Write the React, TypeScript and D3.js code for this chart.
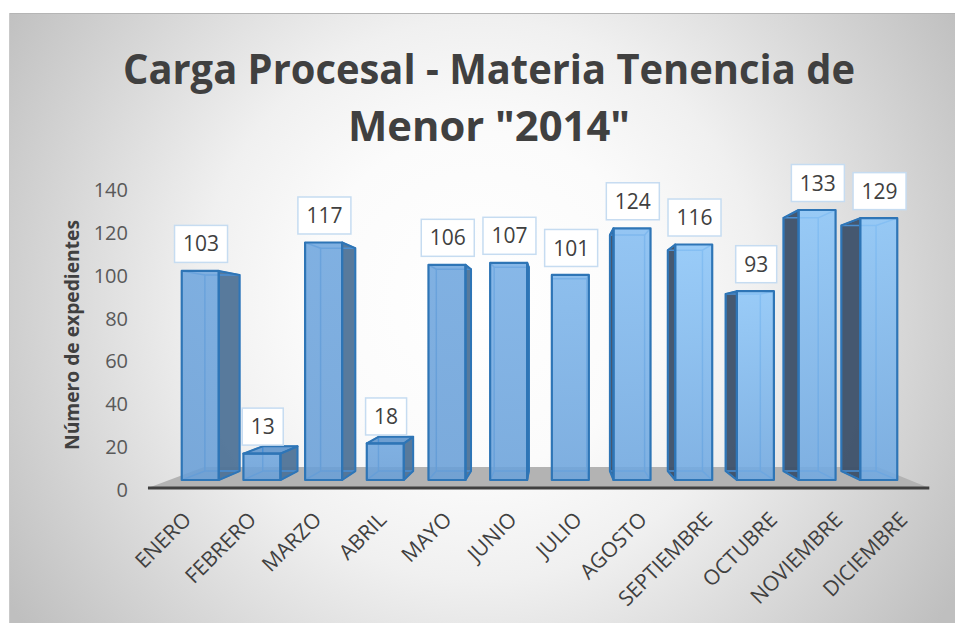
import React from 'react';
import * as d3 from 'd3';

// data
const months = ['ENERO', 'FEBRERO', 'MARZO', 'ABRIL', 'MAYO', 'JUNIO', 'JULIO', 'AGOSTO', 'SEPTIEMBRE', 'OCTUBRE', 'NOVIEMBRE', 'DICIEMBRE'];
const expedientes = [103, 13, 117, 18, 106, 107, 101, 124, 116, 93, 133, 129];
const yTicks = [0, 20, 40, 60, 80, 100, 120, 140];
const titleLines = ['Carga Procesal - Materia Tenencia de', 'Menor "2014"'];
const yTitle = 'Número de expedientes';

const W = 955;
const H = 623;

// simple perspective: points slide toward a vanishing point as depth grows
const vp = { x: 555, y: 336 };
const BAR_DEPTH = 0.062;
const FLOOR_FRONT = -0.0556;
const FLOOR_BACK = 0.09;
const project = (px: number, py: number, k: number): [number, number] => [
  px + (vp.x - px) * k,
  py + (vp.y - py) * k,
];

const x = d3.scaleBand<string>().domain(months).range([169.4, 909.6]).paddingInner(0.4).paddingOuter(0.2);
const y = d3.scaleLinear().domain([0, 140]).range([480, 195.8]);

const poly = (pts: [number, number][]) => 'M' + pts.map(p => p.join(',')).join('L') + 'Z';

const FONT = '"Open Sans", "DejaVu Sans", sans-serif';
const TEXT = '#404040';

const App = () => {
  const bw = x.bandwidth();
  const y0 = y(0);

  // floor slab
  const fl = [
    project(x.range()[0], y0, FLOOR_FRONT),
    project(x.range()[1], y0, FLOOR_FRONT),
    project(x.range()[1], y0, FLOOR_BACK),
    project(x.range()[0], y0, FLOOR_BACK),
  ];

  const bars = months.map((m, i) => {
    const x0 = x(m)!;
    const x1 = x0 + bw;
    const yT = y(expedientes[i]);
    const f: [number, number][] = [[x0, yT], [x1, yT], [x1, y0], [x0, y0]];
    const b = f.map(([px, py]) => project(px, py, BAR_DEPTH));
    let side: [number, number][] | null = null;
    let sideColor = '#4f7397';
    if (vp.x > x1 + 2) side = [f[1], b[1], b[2], f[2]];
    else if (vp.x < x0 - 2) {
      side = [f[0], b[0], b[3], f[3]];
      sideColor = '#3c5069';
    }
    const top = yT > vp.y ? [f[0], f[1], b[1], b[0]] as [number, number][] : null;
    const t = Math.max(0, Math.min(1, (i - 4) / 4));
    const topCol = d3.interpolateRgb('#6fa6de', '#8dc6f8')(t);
    const botCol = d3.interpolateRgb('#699fd7', '#71a9e1')(t);
    return { m, i, x0, x1, yT, f, b, side, sideColor, top, topCol, botCol, v: expedientes[i] };
  });

  const axisY = (v: number) => project(0, y(v), FLOOR_FRONT)[1] + 2;

  return (
    <svg width={W} height={H} style={{ position: 'absolute', left: 0, top: 0, display: 'block' }}>
      <defs>
        <radialGradient id="bg" gradientUnits="userSpaceOnUse" cx={480} cy={300} r={560}>
          <stop offset="0" stopColor="#ffffff" />
          <stop offset="0.3" stopColor="#fbfbfb" />
          <stop offset="0.5" stopColor="#f0f0f0" />
          <stop offset="1" stopColor="#bfbfbf" />
        </radialGradient>
        {bars.map(d => (
          <linearGradient key={d.m} id={'front' + d.i} x1="0" y1="0" x2="0" y2="1">
            <stop offset="0" stopColor={d.topCol} />
            <stop offset="1" stopColor={d.botCol} />
          </linearGradient>
        ))}
      </defs>

      <rect x={0} y={0} width={W} height={H} fill="#ffffff" />
      <rect x={9} y={13} width={W} height={H} fill="url(#bg)" />
      <line x1={9} x2={W} y1={13.5} y2={13.5} stroke="#b5b5b5" />
      <line x1={9.5} x2={9.5} y1={13} y2={H} stroke="#c9c9c9" />

      {/* title */}
      {titleLines.map((t, i) => (
        <text
          key={t}
          x={489}
          y={84 + i * 57}
          textAnchor="middle"
          fontFamily={FONT}
          fontWeight="bold"
          fontSize={42}
          fill={TEXT}
          textLength={i === 0 ? 732 : 282}
          lengthAdjust="spacingAndGlyphs"
        >
          {t}
        </text>
      ))}

      {/* y axis title */}
      <text
        transform="translate(79,335) rotate(-90)"
        textAnchor="middle"
        fontFamily={FONT}
        fontWeight="bold"
        fontSize={19}
        fill={TEXT}
        textLength={230}
        lengthAdjust="spacingAndGlyphs"
      >
        {yTitle}
      </text>

      {/* y tick labels */}
      {yTicks.map(v => (
        <text key={v} x={128} y={axisY(v)} dy="0.35em" textAnchor="end" fontFamily={FONT} fontSize={20} fill="#595959">
          {v}
        </text>
      ))}

      {/* floor */}
      <path d={poly(fl as [number, number][])} fill="#b3b3b3" />
      <line x1={fl[0][0]} x2={fl[1][0]} y1={fl[0][1]} y2={fl[1][1]} stroke="#404040" strokeWidth={3} />

      {/* bars */}
      {bars.map(d => (
        <g key={d.m}>
          {d.side && <path d={poly(d.side)} fill={d.sideColor} fillOpacity={0.95} />}
          {d.top && <path d={poly(d.top)} fill="#5f95cc" fillOpacity={0.9} />}
          <path d={poly(d.b)} fill="none" stroke="#4a8fd3" strokeWidth={1.5} />
          {d.f.map((p, j) => (
            <line key={j} x1={p[0]} y1={p[1]} x2={d.b[j][0]} y2={d.b[j][1]} stroke="#4a8fd3" strokeWidth={1.5} />
          ))}
          <path d={poly(d.f)} fill={`url(#front${d.i})`} fillOpacity={0.88} />
          <path d={poly(d.f)} fill="none" stroke="#2e75b6" strokeWidth={2.2} strokeLinejoin="round" />
          {d.side && <path d={poly(d.side)} fill="none" stroke="#2e75b6" strokeWidth={2} strokeLinejoin="round" />}
          {d.top && <path d={poly(d.top)} fill="none" stroke="#2e75b6" strokeWidth={2} strokeLinejoin="round" />}
        </g>
      ))}

      {/* data labels */}
      {bars.map(d => {
        const cx = (d.x0 + d.x1) / 2 + 0.8;
        const w = String(d.v).length * 12 + 17;
        const bottom = d.yT - 8.5;
        return (
          <g key={'l' + d.m}>
            <rect x={cx - w / 2} y={bottom - 37} width={w} height={37} fill="#ffffff" stroke="#c6dcf1" strokeWidth={1.5} />
            <text x={cx} y={bottom - 18.5} dy="0.36em" textAnchor="middle" fontFamily={FONT} fontSize={21} fill={TEXT}>
              {d.v}
            </text>
          </g>
        );
      })}

      {/* category labels */}
      {bars.map(d => {
        const [px, py] = project((d.x0 + d.x1) / 2, y0, FLOOR_FRONT);
        return (
          <text
            key={'c' + d.m}
            transform={`translate(${px + 12},${py + 33}) rotate(-45)`}
            textAnchor="end"
            fontFamily={FONT}
            fontSize={21}
            fill={TEXT}
          >
            {d.m}
          </text>
        );
      })}
    </svg>
  );
};

export default App;
